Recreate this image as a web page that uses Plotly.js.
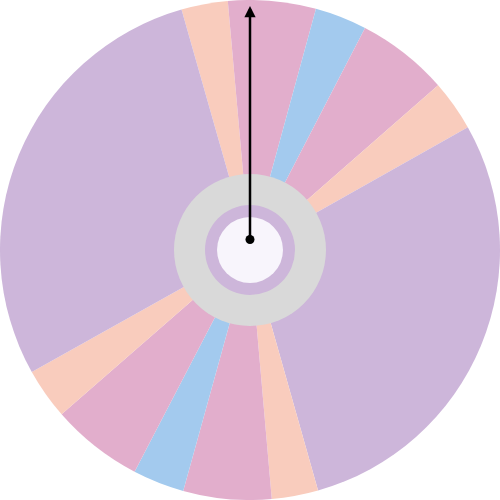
<!DOCTYPE html>
<html>
<head>
<meta charset="utf-8">
<script src="https://cdn.plot.ly/plotly-3.0.1.min.js"></script>
<style>html,body{margin:0;padding:0;background:#fff}#chart{width:500px;height:500px}</style>
</head>
<body>
<div id="chart"></div>
<script>
const labels = ['A1','B1','C1','D1','E1','F1','A2','B2','C2','D2','E2','F2'];
const values = [10.8, 20.4, 12.1, 21.4, 11.8, 103.6, 10.8, 20.5, 12.0, 21.4, 11.9, 103.3];
const colors = ['#F9CCBD','#E2AECC','#A3CAEE','#E2AECC','#F9CCBD','#CDB6DA','#F9CCBD','#E2AECC','#A3CAEE','#E2AECC','#F9CCBD','#CDB6DA'];

const trace = {
  type: 'pie',
  labels: labels,
  values: values,
  marker: {colors: colors, line: {width: 0}},
  sort: false,
  direction: 'clockwise',
  rotation: -15.9,
  textinfo: 'none',
  hoverinfo: 'label+value',
  showlegend: false,
  domain: {x: [0, 1], y: [0, 1]}
};

function circ(r, color) {
  return {type: 'circle', xref: 'paper', yref: 'paper',
    x0: 0.5 - r/500, x1: 0.5 + r/500, y0: 0.5 - r/500, y1: 0.5 + r/500,
    fillcolor: color, line: {width: 0}, layer: 'above'};
}

const layout = {
  width: 500, height: 500,
  margin: {l: 0, r: 0, t: 0, b: 0},
  paper_bgcolor: '#ffffff',
  showlegend: false,
  shapes: [circ(76, '#D9D9D9'), circ(45, '#CDB6DA'), circ(33, '#F8F5FC')],
  annotations: [{
    xref: 'paper', yref: 'paper', axref: 'paper', ayref: 'paper',
    x: 0.5, y: 0.988, ax: 0.5, ay: 0.518,
    text: '', showarrow: true,
    arrowhead: 2, startarrowhead: 6, arrowside: 'end+start',
    arrowsize: 0.9, startarrowsize: 0.9, arrowwidth: 2.5, arrowcolor: '#000000'
  }]
};

Plotly.newPlot('chart', [trace], layout, {displayModeBar: false, staticPlot: true});
</script>
</body>
</html>
